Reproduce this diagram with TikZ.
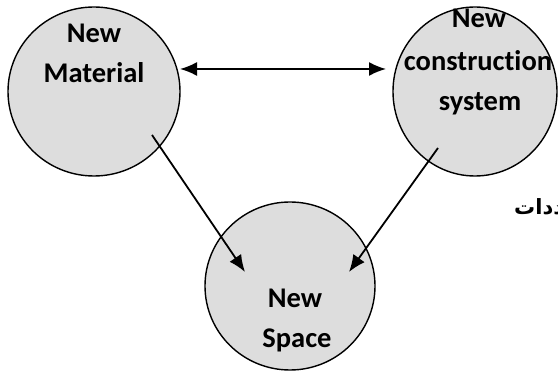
\documentclass[tikz,border=0pt]{standalone}
\usepackage{fontspec}
\setmainfont{Carlito}[Ligatures=NoCommon]
\newfontfamily\arabicfont[Script=Arabic]{DejaVu Sans}
\TeXXeTstate=1
\usetikzlibrary{shapes.geometric,arrows.meta}
\definecolor{cfill}{HTML}{DDDDDD}
\tikzset{
  bubble/.style={ellipse, draw=black, line width=1.4pt, fill=cfill, inner sep=0pt},
  lbl/.style={anchor=base, inner sep=0pt, font=\fontsize{28.5}{30}\selectfont\bfseries},
  conn/.style={line width=1.8pt, -{Latex[length=17pt,width=14pt]}},
  dconn/.style={line width=1.8pt, {Latex[length=17pt,width=14pt]}-{Latex[length=17pt,width=14pt]}}
}
\begin{document}
\begin{tikzpicture}[x=1pt,y=-1pt]
\useasboundingbox (0,0) rectangle (558,371);
\clip (0,0) rectangle (558,371);
% circles
\node[bubble, minimum width=172pt, minimum height=169pt] (mat) at (94,91.5) {};
\node[bubble, minimum width=164pt, minimum height=169pt] (con) at (475,91.5) {};
\node[bubble, minimum width=170pt, minimum height=168pt] (spa) at (290,286) {};
% labels
\node[lbl] (t1) at (94,43) {New};
\node[lbl] (t2) at (94,83) {Material};
\node[lbl] (t3) at (479,28) {New};
\node[lbl] (t4) at (478,71) {construction};
\node[lbl] (t5) at (480,111) {system};
\node[lbl] (t6) at (295,308) {New};
\node[lbl] (t7) at (297,348) {Space};
% arabic fragment
\node[anchor=base west, inner sep=0pt, font=\arabicfont\fontsize{21}{23}\selectfont\bfseries] (ar) at (514,215) {\beginR محددات\endR};
% connector end points
\coordinate (d1) at (180,69);
\coordinate (d2) at (386,69);
\coordinate (a1s) at (152,135);
\coordinate (a1e) at (245,272);
\coordinate (a2s) at (438,148);
\coordinate (a2e) at (349,272);
\draw[dconn] (d1) -- (d2);
\draw[conn] (a1s) -- (a1e);
\draw[conn] (a2s) -- (a2e);
\end{tikzpicture}
\end{document}
